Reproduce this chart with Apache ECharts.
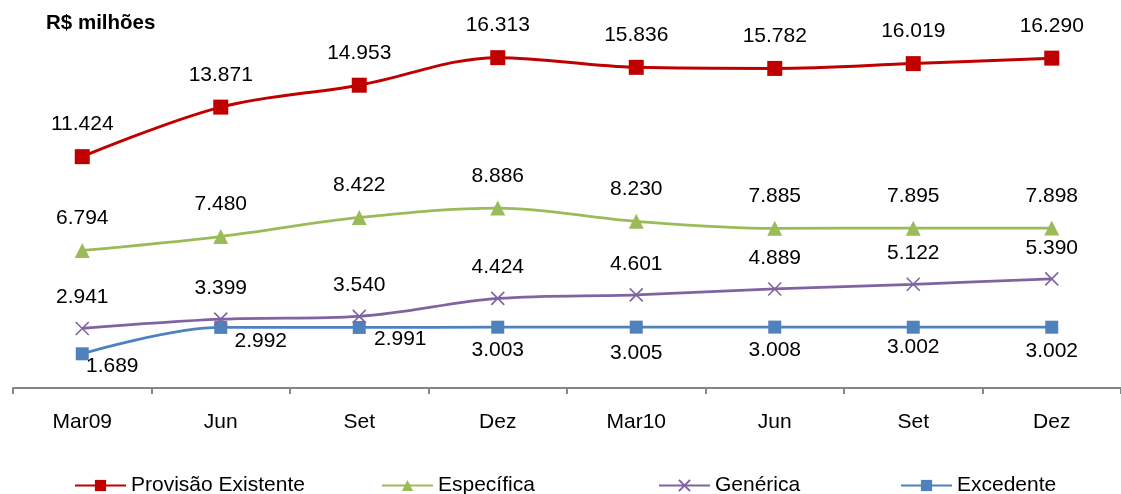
<!DOCTYPE html>
<html>
<head>
<meta charset="utf-8">
<script src="https://cdn.jsdelivr.net/npm/echarts@6/dist/echarts.min.js"></script>
<style>
html,body{margin:0;padding:0;background:#fff;}
#chart{width:1121px;height:494px;}
</style>
</head>
<body>
<div id="chart"></div>
<script>
const categories = ['Mar09','Jun','Set','Dez','Mar10','Jun','Set','Dez'];
const provisao = [11424,13871,14953,16313,15836,15782,16019,16290];
const especifica = [6794,7480,8422,8886,8230,7885,7895,7898];
const generica = [2941,3399,3540,4424,4601,4889,5122,5390];
const excedente = [1689,2992,2991,3003,3005,3008,3002,3002];
const seriesNames = ['Provisão Existente','Específica','Genérica','Excedente'];

// label offsets for Excedente (style only)
const excOffsets = [[30,12],[40,14],[41,12],[0,23],[0,26],[0,23],[0,20],[0,24]];

const FONT = 'Liberation Sans, Arial, sans-serif';
const FS = 21;
const fmt = v => (v/1000).toFixed(3);

const topLabel = {
  show: true, position: 'inside', offset: [0,-32],
  fontFamily: FONT, fontSize: FS, color: '#000',
  formatter: p => fmt(p.value)
};

const crossPath = 'path://M0,0 L10,10 M10,0 L0,10';

const chart = echarts.init(document.getElementById('chart'), null, {renderer:'canvas'});
chart.setOption({
  animation: false,
  backgroundColor: '#fff',
  title: {
    text: 'R$ milhões', left: 41, top: 8,
    textStyle: {fontFamily: FONT, fontSize: 20.5, fontWeight: 'bold', color: '#000'}
  },
  grid: {left: 13, width: 1115, top: 23.5, bottom: 106, containLabel: false},
  legend: [
    {data:[seriesNames[0]], left: 74},
    {data:[seriesNames[1]], left: 381},
    {data:[seriesNames[2]], left: 658},
    {data:[seriesNames[3]], left: 900}
  ].map(l => Object.assign(l, {
    top: 475, padding: 0,
    itemWidth: 51, itemHeight: 14, itemGap: 4,
    textStyle: {fontFamily: FONT, fontSize: FS, color: '#000'}
  })),
  xAxis: {
    type: 'category', data: categories, boundaryGap: true,
    axisLine: {lineStyle: {color: '#868686', width: 2}},
    axisTick: {show: true, length: 6, lineStyle: {color: '#868686', width: 2}},
    axisLabel: {fontFamily: FONT, fontSize: FS, color: '#000', margin: 24}
  },
  yAxis: {
    type: 'value', min: 0, max: 18000, show: false,
    splitLine: {show: false}
  },
  series: [
    {
      name: seriesNames[0], type: 'line', data: provisao, smooth: 0.35,
      symbol: 'rect', symbolSize: 15,
      lineStyle: {color: '#C00000', width: 3},
      itemStyle: {color: '#C00000'},
      label: topLabel, z: 4
    },
    {
      name: seriesNames[1], type: 'line', data: especifica, smooth: 0.35,
      symbol: 'triangle', symbolSize: 15,
      lineStyle: {color: '#9BBB59', width: 2.75},
      itemStyle: {color: '#9BBB59'},
      label: topLabel, z: 3
    },
    {
      name: seriesNames[2], type: 'line', data: generica, smooth: 0.35,
      symbol: crossPath, symbolSize: 13,
      lineStyle: {color: '#8064A2', width: 2.75},
      itemStyle: {color: 'rgba(0,0,0,0)', borderColor: '#8064A2', borderWidth: 1.6},
      label: Object.assign({}, topLabel, {offset: [0,-31]}), z: 2
    },
    {
      name: seriesNames[3], type: 'line', smooth: 0.35,
      data: excedente.map((v,i) => ({value: v, label: {offset: excOffsets[i]}})),
      symbol: 'rect', symbolSize: 13,
      lineStyle: {color: '#4F81BD', width: 2.75},
      itemStyle: {color: '#4F81BD'},
      label: {show: true, position: 'inside', fontFamily: FONT, fontSize: FS, color: '#000',
        formatter: p => fmt(p.value)},
      z: 1
    }
  ]
});
</script>
</body>
</html>
